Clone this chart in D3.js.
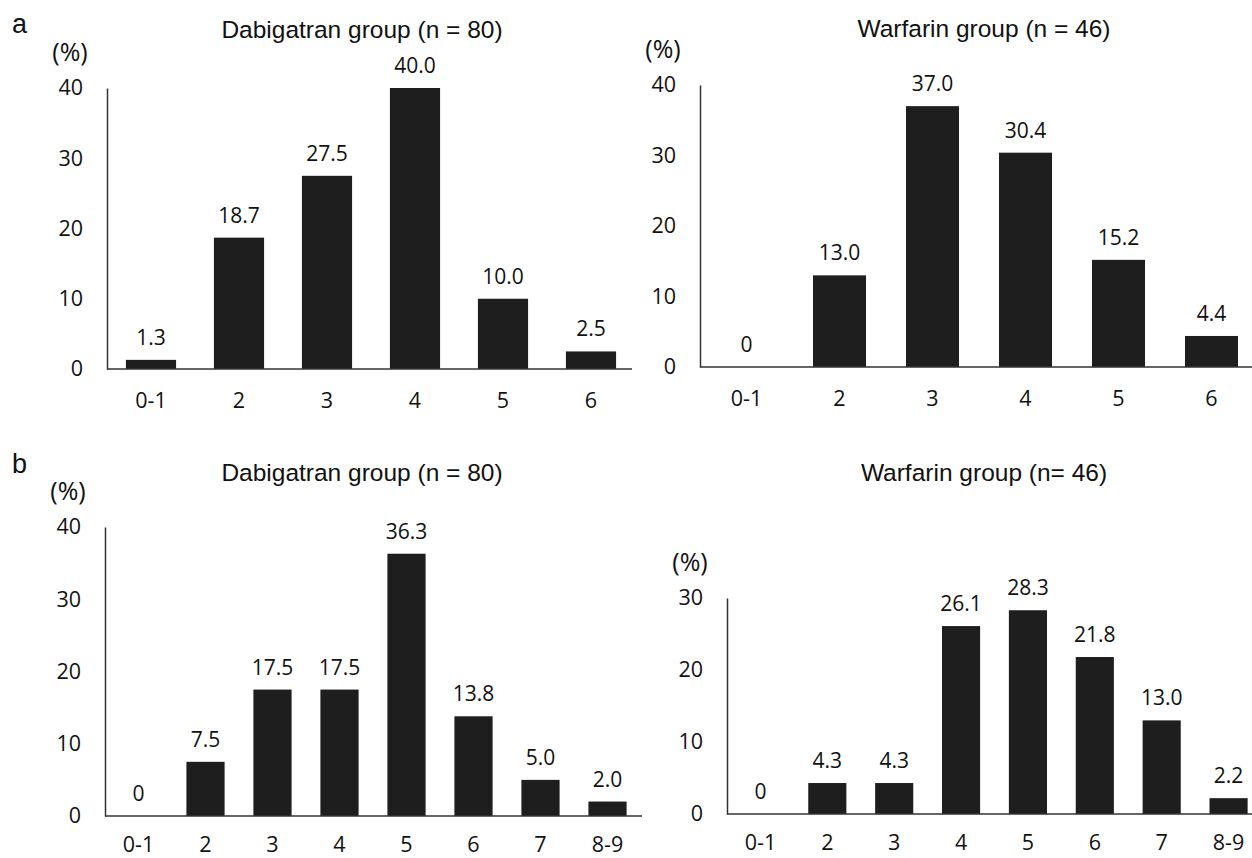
<!DOCTYPE html>
<html>
<head>
<meta charset="utf-8">
<script src="https://cdn.jsdelivr.net/npm/d3@7"></script>
<style>
  body { margin: 0; background: #fff; }
  .title { font-family: "Liberation Sans", Arial, sans-serif; font-size: 24.5px; fill: #111; }
  .lbl { font-family: "Open Sans", sans-serif; fill: #111; }
</style>
</head>
<body>
<div id="chart"></div>
<script>

// categories
var catsA = ["0-1", "2", "3", "4", "5", "6"];
var catsB = ["0-1", "2", "3", "4", "5", "6", "7", "8-9"];

// percentages
var dabigatranA = [1.3, 18.7, 27.5, 40.0, 10.0, 2.5];
var warfarinA   = [0, 13.0, 37.0, 30.4, 15.2, 4.4];
var dabigatranB = [0, 7.5, 17.5, 17.5, 36.3, 13.8, 5.0, 2.0];
var warfarinB   = [0, 4.3, 4.3, 26.1, 28.3, 21.8, 13.0, 2.2];

// y ticks
var ticks40 = [0, 10, 20, 30, 40];
var ticks30 = [0, 10, 20, 30];

var titles = ["Dabigatran group (n = 80)", "Warfarin group (n = 46)",
              "Dabigatran group (n = 80)", "Warfarin group (n= 46)"];

var svg = d3.select("#chart").append("svg")
    .attr("width", 1252)
    .attr("height", 858);

function drawPanel(p) {
    var x = d3.scaleBand()
        .domain(p.cats)
        .range([p.x0, p.x1])
        .paddingInner(0.43)
        .paddingOuter(0.215);

    var y = d3.scaleLinear()
        .domain([0, p.max])
        .range([p.y0, p.y1]);

    var g = svg.append("g");

    // bars
    g.selectAll("rect.bar")
        .data(p.values)
        .enter()
        .append("rect")
        .attr("class", "bar")
        .attr("x", function(d, i) { return x(p.cats[i]); })
        .attr("y", function(d) { return y(d); })
        .attr("width", x.bandwidth())
        .attr("height", function(d) { return y(0) - y(d); })
        .attr("fill", "#1e1e1e");

    // value labels
    g.selectAll("text.val")
        .data(p.values)
        .enter()
        .append("text")
        .attr("class", "lbl")
        .attr("x", function(d, i) { return x(p.cats[i]) + x.bandwidth() / 2; })
        .attr("y", function(d) { return y(d) - 15; })
        .attr("text-anchor", "middle")
        .style("font-size", "21px")
        .text(function(d) { return d === 0 ? "0" : d.toFixed(1); });

    // y axis
    var yAxis = g.append("g")
        .attr("transform", "translate(" + p.x0 + ",0)")
        .call(d3.axisLeft(y).tickValues(p.ticks).tickSize(0).tickPadding(24));
    yAxis.select(".domain").attr("stroke", "#333").attr("stroke-width", 1.5);
    yAxis.selectAll("text")
        .attr("class", "lbl")
        .style("font-size", "21.5px")
        .attr("font-family", null);

    // x axis
    var xAxis = g.append("g")
        .attr("transform", "translate(0," + p.y0 + ")")
        .call(d3.axisBottom(x).tickSize(0).tickPadding(p.xPad));
    xAxis.select(".domain")
        .attr("d", "M" + p.x0 + ",0H" + p.xEnd)
        .attr("stroke", "#333").attr("stroke-width", 1.5);
    xAxis.selectAll("text")
        .attr("class", "lbl")
        .style("font-size", "21.5px")
        .attr("font-family", null);

    g.append("text")
        .attr("class", "lbl")
        .attr("x", p.x0 - 37)
        .attr("y", p.y1 - 37)
        .attr("text-anchor", "middle")
        .attr("dominant-baseline", "central")
        .style("font-size", "25px")
        .text("(%)");

    g.append("text")
        .attr("class", "title")
        .attr("x", p.tx)
        .attr("y", p.ty)
        .attr("text-anchor", "middle")
        .text(p.title);
}

drawPanel({cats: catsA, values: dabigatranA, ticks: ticks40, max: 40, xPad: 24,
    x0: 107, x1: 635, xEnd: 632, y0: 369, y1: 88, tx: 362, ty: 38, title: titles[0]});
drawPanel({cats: catsA, values: warfarinA, ticks: ticks40, max: 40, xPad: 24,
    x0: 700, x1: 1258, xEnd: 1252, y0: 367, y1: 85, tx: 984, ty: 37, title: titles[1]});
drawPanel({cats: catsB, values: dabigatranB, ticks: ticks40, max: 40, xPad: 21,
    x0: 105, x1: 641, xEnd: 642, y0: 816, y1: 527, tx: 362, ty: 481, title: titles[2]});
drawPanel({cats: catsB, values: warfarinB, ticks: ticks30, max: 30, xPad: 21,
    x0: 727, x1: 1262, xEnd: 1252, y0: 814, y1: 598, tx: 984, ty: 481, title: titles[3]});

// panel letters
svg.append("text").attr("class", "title").attr("x", 12).attr("y", 33)
    .style("font-size", "27px").text("a");
svg.append("text").attr("class", "title").attr("x", 12).attr("y", 473)
    .style("font-size", "27px").text("b");
</script>
</body>
</html>
